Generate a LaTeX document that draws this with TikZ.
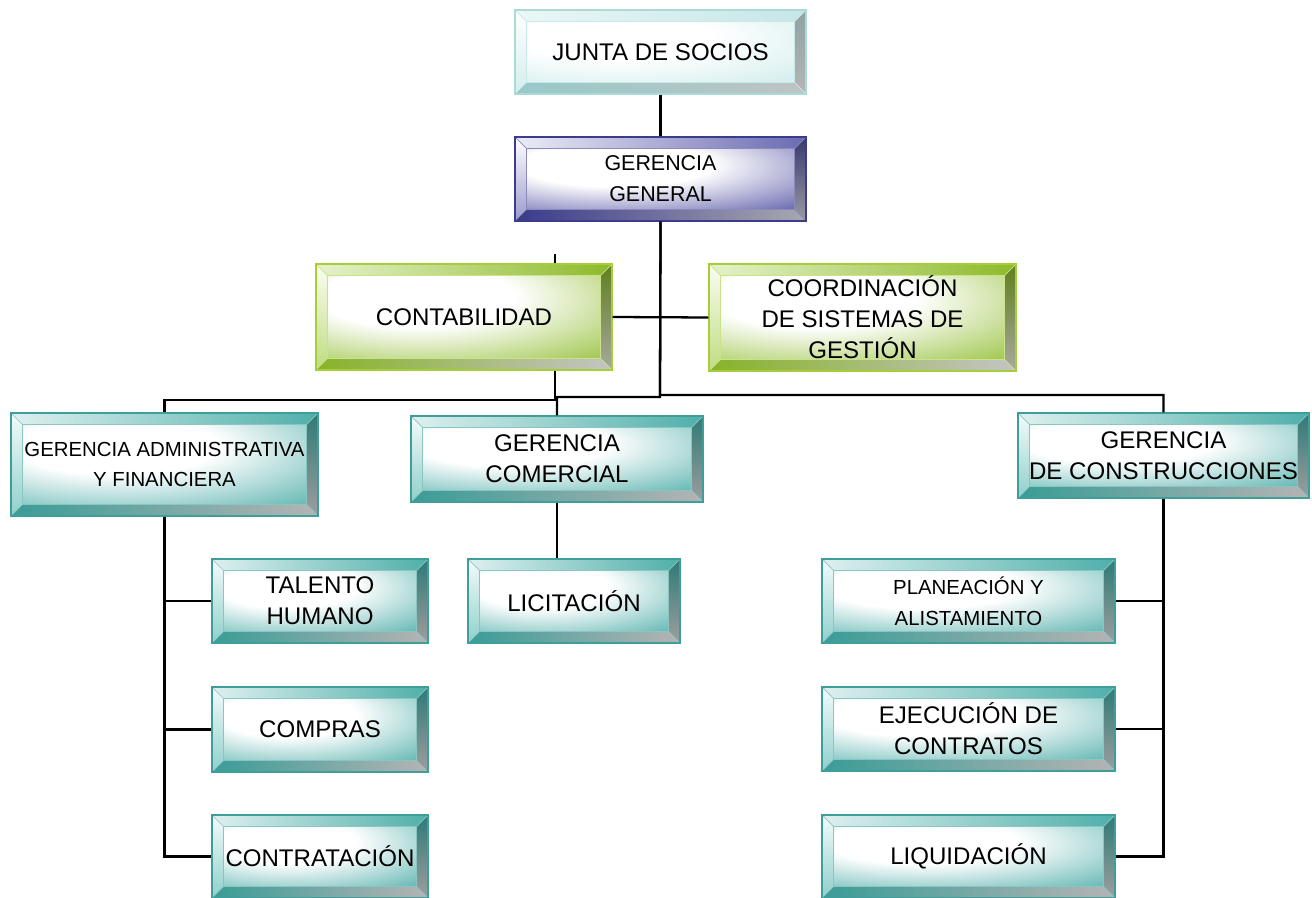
\documentclass[tikz,border=0pt]{standalone}
\usepackage{fontspec}
\setmainfont{Liberation Sans}
\usetikzlibrary{calc}
% teal
\definecolor{tqB}{HTML}{3E9E9A}\definecolor{tqTL}{HTML}{DDF0EF}\definecolor{tqTR}{HTML}{4FAFAA}
\definecolor{tqLT}{HTML}{F4FBFB}\definecolor{tqLB}{HTML}{8FCFCB}\definecolor{tqRT}{HTML}{2E7A76}
\definecolor{tqRB}{HTML}{9E9E9E}\definecolor{tqBL}{HTML}{3A9C97}\definecolor{tqBR}{HTML}{B4B4B4}
\definecolor{tqF}{HTML}{45A9A4}
% junta
\definecolor{jnB}{HTML}{A9D9D9}\definecolor{jnTL}{HTML}{EAF7F7}\definecolor{jnTR}{HTML}{C6E6E6}
\definecolor{jnLT}{HTML}{FFFFFF}\definecolor{jnLB}{HTML}{D4EDED}\definecolor{jnRT}{HTML}{8FA3A3}
\definecolor{jnRB}{HTML}{B5B5B5}\definecolor{jnBL}{HTML}{98C9C9}\definecolor{jnBR}{HTML}{BEC4C4}
\definecolor{jnF}{HTML}{C9E9E9}
% gerencia general
\definecolor{ggB}{HTML}{3C3C8E}\definecolor{ggTL}{HTML}{ECECF6}\definecolor{ggTR}{HTML}{6A6AB2}
\definecolor{ggLT}{HTML}{FFFFFF}\definecolor{ggLB}{HTML}{9A9ACC}\definecolor{ggRT}{HTML}{38386E}
\definecolor{ggRB}{HTML}{9A9AA4}\definecolor{ggBL}{HTML}{3A3A8C}\definecolor{ggBR}{HTML}{A8A8B0}
\definecolor{ggF}{HTML}{4A4AA0}
% green
\definecolor{grB}{HTML}{A6CE39}\definecolor{grTL}{HTML}{E6F2CC}\definecolor{grTR}{HTML}{8DBA2A}
\definecolor{grLT}{HTML}{FAFDF2}\definecolor{grLB}{HTML}{BFDC80}\definecolor{grRT}{HTML}{5F7F1E}
\definecolor{grRB}{HTML}{A8A8A0}\definecolor{grBL}{HTML}{88B328}\definecolor{grBR}{HTML}{C4C4C4}
\definecolor{grF}{HTML}{8DBB2A}
\pgfdeclareradialshading{tqface}{\pgfpoint{-10bp}{14bp}}{color(0bp)=(white); color(18bp)=(white); color(52bp)=(tqF); color(120bp)=(tqF)}
\pgfdeclareradialshading{jnface}{\pgfpoint{-10bp}{14bp}}{color(0bp)=(white); color(18bp)=(white); color(52bp)=(jnF); color(120bp)=(jnF)}
\pgfdeclareradialshading{ggface}{\pgfpoint{-10bp}{14bp}}{color(0bp)=(white); color(18bp)=(white); color(52bp)=(ggF); color(120bp)=(ggF)}
\pgfdeclareradialshading{grface}{\pgfpoint{-10bp}{14bp}}{color(0bp)=(white); color(18bp)=(white); color(52bp)=(grF); color(120bp)=(grF)}
\newcommand\fsA{\fontsize{13.7}{17.6}\selectfont}
\newcommand\fsB{\fontsize{12.2}{15.4}\selectfont}
\newcommand\fsC{\fontsize{11.6}{16.5}\selectfont}
\def\bw{0.23cm}
\tikzset{
  bevel/.style={draw=#1B, line width=0.8pt, inner sep=0pt, align=center, font=\fsA,
    path picture={
      \coordinate (pNW) at (path picture bounding box.north west);
      \coordinate (pNE) at (path picture bounding box.north east);
      \coordinate (pSW) at (path picture bounding box.south west);
      \coordinate (pSE) at (path picture bounding box.south east);
      \coordinate (iNW) at ($(pNW)+(\bw,-\bw)$);
      \coordinate (iNE) at ($(pNE)+(-\bw,-\bw)$);
      \coordinate (iSW) at ($(pSW)+(\bw,\bw)$);
      \coordinate (iSE) at ($(pSE)+(-\bw,\bw)$);
      \shade[shading=#1face] (iNW) rectangle (iSE);
      \shade[left color=#1TL, right color=#1TR] (pNW) -- (pNE) -- (iNE) -- (iNW) -- cycle;
      \shade[top color=#1LT, bottom color=#1LB] (pNW) -- (iNW) -- (iSW) -- (pSW) -- cycle;
      \shade[top color=#1RT, bottom color=#1RB] (pNE) -- (pSE) -- (iSE) -- (iNE) -- cycle;
      \shade[left color=#1BL, right color=#1BR] (pSW) -- (iSW) -- (iSE) -- (pSE) -- cycle;
      \draw[#1B!60, line width=0.4pt] (iNW) rectangle (iSE) (pNW) -- (iNW) (pNE) -- (iNE) (pSW) -- (iSW) (pSE) -- (iSE);
    }},
  conn/.style={draw=black, line width=1.3pt}
}
\newcommand\bx[7]{%
  \pgfmathsetmacro\bxcx{(#2+#4)/2}%
  \pgfmathsetmacro\bxcy{(#3+#5)/2}%
  \pgfmathsetmacro\bxw{(#4-#2)*0.02}%
  \pgfmathsetmacro\bxh{(#5-#3)*0.02}%
  \node[bevel=#6, minimum width=\bxw cm, minimum height=\bxh cm] (#1) at (\bxcx,\bxcy) {#7};}
\begin{document}
\begin{tikzpicture}[x=0.02cm, y=-0.02cm]
\useasboundingbox (0,0) rectangle (1312,898);
\coordinate (hR) at (660,395);
\coordinate (hC) at (660,397);
\coordinate (cA) at (555,400);
\bx{junta}{515}{10}{806}{94}{jn}{JUNTA DE SOCIOS}
\bx{gg}{515}{137}{806}{221}{gg}{\fsB GERENCIA\\\fsB GENERAL}
\bx{contab}{316}{264}{612}{370}{gr}{CONTABILIDAD}
\bx{coord}{709}{264}{1016}{371}{gr}{COORDINACIÓN\\DE SISTEMAS DE\\GESTIÓN}
\bx{gadm}{11}{413}{318}{516}{tq}{\fsC GERENCIA ADMINISTRATIVA\\\fsC Y FINANCIERA}
\bx{gcom}{411}{416}{703}{502}{tq}{GERENCIA\\COMERCIAL}
\bx{gcons}{1018}{413}{1309}{498}{tq}{GERENCIA\\DE CONSTRUCCIONES}
\bx{tal}{212}{559}{428}{643}{tq}{TALENTO\\HUMANO}
\bx{comp}{212}{687}{428}{772}{tq}{COMPRAS}
\bx{contr}{212}{815}{428}{898}{tq}{CONTRATACIÓN}
\bx{lic}{468}{559}{680}{643}{tq}{LICITACIÓN}
\bx{plan}{822}{559}{1115}{643}{tq}{\fsC PLANEACIÓN  Y\\\fsC ALISTAMIENTO}
\bx{ejec}{822}{687}{1115}{771}{tq}{EJECUCIÓN DE\\CONTRATOS}
\bx{liq}{822}{815}{1115}{898}{tq}{LIQUIDACIÓN}
\draw[conn] (junta.south) -- (gg.north);
\draw[conn] (gg.south) -- (hR) -| (gcons.north);
\draw[conn] (gg.south) -- (hC) -| (gcom.north);
\draw[conn] (contab.east) -- (coord.west);
\draw[conn] (contab.south -| cA) -- (cA) -| (gadm.north);
\draw[conn] (contab.north -| cA) -- ++(0,-9);
\draw[conn] (gcom.south) -- (gcom.south |- lic.north);
\draw[conn] (gadm.south) |- (contr.west);
\draw[conn] (gadm.south |- tal.west) -- (tal.west);
\draw[conn] (gadm.south |- comp.west) -- (comp.west);
\draw[conn] (gcons.south) |- (liq.east);
\draw[conn] (gcons.south |- plan.east) -- (plan.east);
\draw[conn] (gcons.south |- ejec.east) -- (ejec.east);
\end{tikzpicture}
\end{document}
